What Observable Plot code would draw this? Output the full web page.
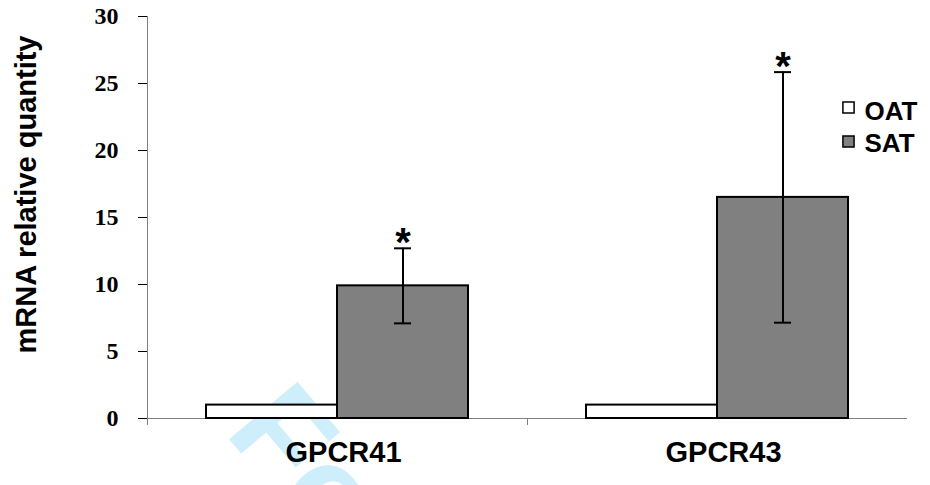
<!DOCTYPE html>
<html>
<head>
<meta charset="utf-8">
<script src="https://cdn.jsdelivr.net/npm/d3@7"></script>
<script src="https://cdn.jsdelivr.net/npm/@observablehq/plot@0.6"></script>
<style>
  html, body { margin: 0; padding: 0; background: #fff; }
  svg [aria-label="y-axis tick"] { stroke: #808080; }
</style>
</head>
<body>
<div id="chart"></div>
<script>
// ---- data ----
const genes = ["GPCR41", "GPCR43"];
const series = ["OAT", "SAT"];
const seriesColors = ["#ffffff", "#808080"];
const oatMean = [1, 1];
const satMean = [9.9, 16.5];
const satErr = [2.8, 9.35];
const significant = ["*", "*"];
const yTicks = [0, 5, 10, 15, 20, 25, 30];
const yLabel = "mRNA relative quantity";
const watermark = "For Peer Review";

// tidy table built from the arrays
const bars = [];
genes.forEach((g, i) => {
  bars.push({gene: g, series: "OAT", value: oatMean[i]});
  bars.push({gene: g, series: "SAT", value: satMean[i]});
});
const errs = genes.map((g, i) => ({
  gene: g, series: "SAT", lo: satMean[i] - satErr[i], hi: satMean[i] + satErr[i], star: significant[i]
}));

const sans = "Liberation Sans, Arial, sans-serif";
const serif = "Liberation Serif, Times New Roman, serif";

const chart = Plot.plot({
  width: 930,
  height: 485,
  marginLeft: 147,
  marginRight: 23,
  marginTop: 16,
  marginBottom: 67,
  fx: {domain: genes, padding: 0, label: null},
  x: {domain: series, paddingInner: 0, paddingOuter: 0.45, axis: null},
  y: {domain: [0, 30], label: null},
  color: {domain: series, range: seriesColors},
  marks: [
    // watermark behind everything
    Plot.text([watermark], {
      facet: "super", frameAnchor: "bottom-left", dx: 76, dy: 14,
      rotate: 50, textAnchor: "start", lineAnchor: "bottom",
      fontSize: 130, fontWeight: "bold", fontFamily: sans, fill: "#cfeefc"
    }),
    // y axis line
    Plot.frame({facet: "super", anchor: "left", stroke: "#808080", insetBottom: -6}),
    // group boundary ticks below baseline
    Plot.frame({anchor: "left", stroke: "#808080", insetTop: 402, insetBottom: -6}),
    Plot.ruleY([0], {stroke: "#808080", strokeWidth: 1}),
    Plot.axisY({
      ticks: yTicks, tickSize: 9, tickPadding: 20, label: null,
      fontFamily: serif, fontWeight: "bold", fontSize: 24, fill: "#000"
    }),
    Plot.axisFx({
      anchor: "bottom", tickSize: 0, tickPadding: 23, label: null, dx: 6,
      fontFamily: sans, fontWeight: "bold", fontSize: 29, fill: "#000"
    }),
    Plot.barY(bars, {
      fx: "gene", x: "series", y: "value", fill: "series",
      stroke: "#000", strokeWidth: 2
    }),
    Plot.ruleX(errs, {fx: "gene", x: "series", y1: "lo", y2: "hi", stroke: "#000", strokeWidth: 2}),
    Plot.tickY(errs, {fx: "gene", x: "series", y: "lo", stroke: "#000", strokeWidth: 2, insetLeft: 57, insetRight: 57}),
    Plot.tickY(errs, {fx: "gene", x: "series", y: "hi", stroke: "#000", strokeWidth: 2, insetLeft: 57, insetRight: 57}),
    Plot.text(errs, {
      fx: "gene", x: "series", y: "hi", text: "star", lineAnchor: "middle", dy: -5,
      fontSize: 40, fontWeight: "bold", fontFamily: sans, fill: "#000"
    }),
    // y-axis title
    Plot.text([yLabel], {
      facet: "super", frameAnchor: "left", rotate: -90, textAnchor: "middle", lineAnchor: "middle",
      dx: -121, dy: -23,
      fontSize: 29, fontWeight: "bold", fontFamily: sans, fill: "#000"
    }),
    // legend
    ...series.map((s, i) => Plot.dot([s], {
      facet: "super", frameAnchor: "top-right", dx: -59, dy: 91 + i * 34,
      symbol: "square", r: 6.3, fill: d => d, stroke: "#000", strokeWidth: 1.5
    })),
    ...series.map((s, i) => Plot.text([s], {
      facet: "super", frameAnchor: "top-right", dx: -43, dy: 95 + i * 32,
      textAnchor: "start", lineAnchor: "middle",
      fontSize: 26, fontWeight: "bold", fontFamily: sans, fill: "#000"
    }))
  ]
});
document.getElementById("chart").appendChild(chart);
</script>
</body>
</html>
